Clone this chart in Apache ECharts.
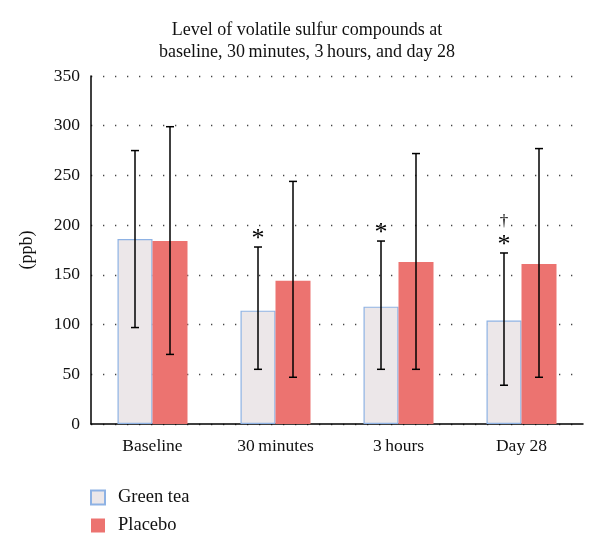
<!DOCTYPE html>
<html>
<head>
<meta charset="utf-8">
<script src="https://cdn.jsdelivr.net/npm/echarts@6/dist/echarts.min.js"></script>
<style>html,body{margin:0;padding:0;background:#fff}#c{width:600px;height:559px}</style>
</head>
<body>
<div id="c"></div>
<script>
const categories = ['Baseline', '30\u2009minutes', '3\u2009hours', 'Day 28'];
const greenTea = [186, 114, 118, 104];
const greenTeaErrLow = [97, 55, 55, 39];
const greenTeaErrHigh = [275, 178, 184, 172];
const placebo = [184, 144, 163, 161];
const placeboErrLow = [70, 47, 55, 47];
const placeboErrHigh = [299, 244, 272, 277];
const greenSigMarks = ['', '*', '*', '*'];
const greenDaggerMarks = ['', '', '', '\u2020'];
const yTicks = [0, 50, 100, 150, 200, 250, 300, 350];

const FONT = '"Liberation Serif", "DejaVu Serif", serif';
const BAR_W = 35;
const chart = echarts.init(document.getElementById('c'), null, {renderer: 'canvas'});

function errSeries(low, high, offset) {
  return {
    type: 'custom',
    silent: true,
    z: 10,
    data: categories.map((c, i) => [i, low[i], high[i]]),
    renderItem: function (params, api) {
      const lo = api.coord([api.value(0), api.value(1)]);
      const hi = api.coord([api.value(0), api.value(2)]);
      const x = lo[0] + offset;
      const cap = 4;
      const st = {stroke: '#000', lineWidth: 1.5};
      return {
        type: 'group',
        children: [
          {type: 'line', shape: {x1: x, y1: lo[1], x2: x, y2: hi[1]}, style: st},
          {type: 'line', shape: {x1: x - cap, y1: lo[1], x2: x + cap, y2: lo[1]}, style: st},
          {type: 'line', shape: {x1: x - cap, y1: hi[1], x2: x + cap, y2: hi[1]}, style: st}
        ]
      };
    }
  };
}

function markSeries(high, sig, dagger, offset) {
  return {
    type: 'custom',
    silent: true,
    z: 11,
    data: categories.map((c, i) => [i, high[i]]),
    renderItem: function (params, api) {
      const i = params.dataIndex;
      const p = api.coord([api.value(0), api.value(1)]);
      const x = p[0] + offset;
      const children = [];
      if (sig[i]) {
        children.push({type: 'text', style: {text: sig[i], x: x, y: p[1] + 5, align: 'center', verticalAlign: 'bottom', font: '26px ' + FONT, fill: '#000'}});
      }
      if (dagger[i]) {
        children.push({type: 'text', style: {text: dagger[i], x: x, y: p[1] - 23, align: 'center', verticalAlign: 'bottom', font: '17px ' + FONT, fill: '#000'}});
      }
      return {type: 'group', children: children};
    }
  };
}

const option = {
  animation: false,
  backgroundColor: '#fff',
  title: {
    text: 'Level of volatile sulfur compounds at\nbaseline, 30\u2009minutes, 3\u2009hours, and day 28',
    left: 302,
    textAlign: 'center',
    top: 14,
    textStyle: {fontFamily: FONT, fontSize: 18, fontWeight: 'normal', color: '#111', lineHeight: 22}
  },
  legend: {
    orient: 'vertical',
    left: 85,
    top: 483,
    itemWidth: 14,
    itemHeight: 14,
    itemGap: 9,
    icon: 'rect',
    textStyle: {fontFamily: FONT, fontSize: 18.5, color: '#111', padding: [0, 0, 0, 8]},
    data: ['Green tea', 'Placebo']
  },
  grid: {left: 91, right: 17, top: 76, bottom: 135},
  xAxis: {
    type: 'category',
    data: categories,
    axisLine: {lineStyle: {color: '#000', width: 1.5}},
    axisTick: {show: false},
    axisLabel: {fontFamily: FONT, fontSize: 17.5, color: '#111', margin: 13}
  },
  yAxis: {
    type: 'value',
    min: 0, max: 350, interval: 50,
    name: '(ppb)',
    nameLocation: 'middle',
    nameGap: 55,
    nameRotate: 90,
    nameTextStyle: {fontFamily: FONT, fontSize: 18, color: '#111'},
    axisLine: {show: true, lineStyle: {color: '#000', width: 1.5}},
    axisTick: {show: false},
    axisLabel: {fontFamily: FONT, fontSize: 17.5, color: '#111', margin: 11,
      formatter: v => yTicks.includes(v) ? String(v) : ''},
    splitLine: {show: true, lineStyle: {color: '#444', width: 1.3, type: [1.3, 10.7]}}
  },
  series: [
    {name: 'Green tea', type: 'bar', data: greenTea, barWidth: BAR_W, barGap: '0%',
      itemStyle: {color: '#ECE7E9', borderColor: '#8EB2E4', borderWidth: 1.2}},
    {name: 'Placebo', type: 'bar', data: placebo, barWidth: BAR_W,
      itemStyle: {color: '#EC7370'}},
    errSeries(greenTeaErrLow, greenTeaErrHigh, -BAR_W / 2),
    errSeries(placeboErrLow, placeboErrHigh, BAR_W / 2),
    markSeries(greenTeaErrHigh, greenSigMarks, greenDaggerMarks, -BAR_W / 2)
  ]
};
chart.setOption(option);
</script>
</body>
</html>
